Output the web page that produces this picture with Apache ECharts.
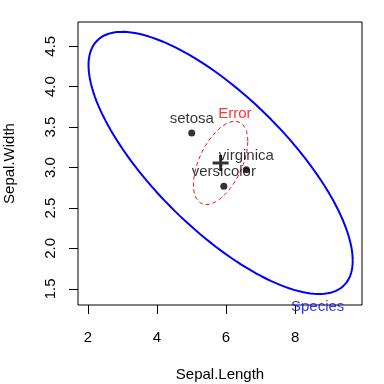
<!DOCTYPE html>
<html><head><meta charset="utf-8">
<script src="https://cdn.jsdelivr.net/npm/echarts@6/dist/echarts.min.js"></script>
<style>html,body{margin:0;padding:0;background:#fff}#c{width:384px;height:384px}</style>
</head><body><div id="c"></div>
<script>
const species = ['setosa', 'versicolor', 'virginica'];
const meanLength = [5.006, 5.936, 6.588];
const meanWidth = [3.428, 2.770, 2.974];
const grandMean = [5.843, 3.057];
// ellipse shape matrices [s11, s12, s22] (scaled SSCP)
const speciesShape = [6.384, -2.015, 1.145];
const errorShape = [0.2700, 0.0927, 0.1154];
const radius = 1.515;
const xTicks = [2, 4, 6, 8];
const yTicks = [1.5, 2.0, 2.5, 3.0, 3.5, 4.0, 4.5];

function ellipse(center, s, c) {
  const r11 = Math.sqrt(s[0]);
  const r12 = s[1] / r11;
  const r22 = Math.sqrt(s[2] - r12 * r12);
  const pts = [];
  const n = 160;
  for (let i = 0; i <= n; i++) {
    const t = 2 * Math.PI * i / n;
    pts.push([center[0] + c * Math.cos(t) * r11,
              center[1] + c * (Math.cos(t) * r12 + Math.sin(t) * r22)]);
  }
  return pts;
}
function extremeY(pts, wantMax) {
  let best = pts[0];
  for (const p of pts) if (wantMax ? p[1] > best[1] : p[1] < best[1]) best = p;
  return best;
}
const hPts = ellipse(grandMean, speciesShape, radius);
const ePts = ellipse(grandMean, errorShape, radius);
const hLab = extremeY(hPts, false);
const eLab = extremeY(ePts, true);

const font = '"Liberation Sans", Arial, sans-serif';
const chart = echarts.init(document.getElementById('c'), null, {renderer: 'canvas'});
chart.setOption({
  animation: false,
  grid: {left: 78, top: 22, width: 284, height: 283, containLabel: false, outerBoundsMode: 'none',
    show: true, borderColor: '#000', borderWidth: 1, backgroundColor: 'transparent'},
  xAxis: {
    type: 'value', min: 1.71, max: 9.94,
    name: 'Sepal.Length', nameLocation: 'middle', nameGap: 62,
    nameTextStyle: {fontFamily: font, fontSize: 15, color: '#000'},
    axisLine: {show: false},
    splitLine: {show: false},
    axisTick: {show: true, length: 9, lineStyle: {color: '#000'}, customValues: xTicks},
    axisLabel: {customValues: xTicks, margin: 25, fontFamily: font, fontSize: 15, color: '#000'}
  },
  yAxis: {
    type: 'value', min: 1.30, max: 4.80,
    name: 'Sepal.Width', nameLocation: 'middle', nameGap: 61, nameRotate: 90,
    nameTextStyle: {fontFamily: font, fontSize: 15, color: '#000'},
    axisLine: {show: false},
    splitLine: {show: false},
    axisTick: {show: true, length: 9, lineStyle: {color: '#000'}, customValues: yTicks},
    axisLabel: {customValues: yTicks, rotate: 90, margin: 20, fontFamily: font, fontSize: 15, color: '#000',
      formatter: v => v.toFixed(1)}
  },
  series: [
    {type: 'line', data: hPts, showSymbol: false, smooth: false, lineStyle: {color: '#0000FF', width: 2}, z: 2},
    {type: 'line', data: ePts, showSymbol: false, smooth: false, lineStyle: {color: '#FF0000', width: 1, type: [4, 3]}, z: 2},
    {type: 'scatter', data: species.map((s, i) => ({value: [meanLength[i], meanWidth[i]], name: s})),
      symbol: 'circle', symbolSize: 7, itemStyle: {color: '#000'},
      label: {show: true, position: 'top', distance: 3, formatter: p => p.name, fontFamily: font, fontSize: 15, color: '#000'}, z: 3},
    {type: 'scatter', data: [grandMean], symbol: 'path://M6.5,0h3v6.5h6.5v3h-6.5v6.5h-3v-6.5h-6.5v-3h6.5z', symbolSize: 16,
      itemStyle: {color: '#000'}, z: 4},
    {type: 'scatter', data: [{value: hLab, name: 'Species'}], symbolSize: 0,
      label: {show: true, position: 'bottom', distance: 5, formatter: 'Species', fontFamily: font, fontSize: 15, color: '#0000FF'}},
    {type: 'scatter', data: [{value: eLab, name: 'Error'}], symbolSize: 0,
      label: {show: true, position: 'top', distance: 0, formatter: 'Error', fontFamily: font, fontSize: 15, color: '#FF0000'}}
  ]
});
</script></body></html>
